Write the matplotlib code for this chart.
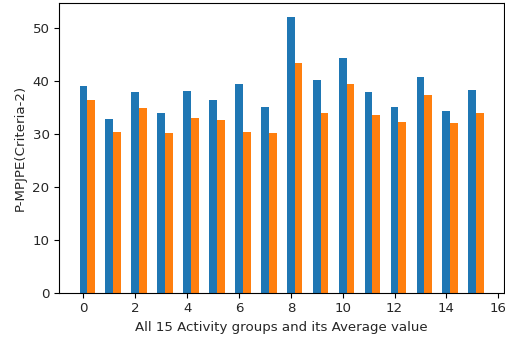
import numpy as np
import matplotlib.pyplot as plt

# P-MPJPE per activity group (last bar is the average), two methods
groups = np.arange(16)
blue_vals = [39.1, 32.8, 37.9, 33.9, 38.1, 36.4, 39.4, 35.1,
             52.2, 40.2, 44.4, 37.9, 35.1, 40.7, 34.3, 38.4]
orange_vals = [36.4, 30.3, 34.9, 30.1, 33.1, 32.6, 30.3, 30.1,
               43.4, 33.9, 39.4, 33.6, 32.3, 37.4, 32.1, 33.9]

plt.rcParams['font.size'] = 9.6
plt.rcParams['text.color'] = '#262626'
plt.rcParams['axes.labelcolor'] = '#262626'
plt.rcParams['xtick.labelcolor'] = '#262626'
plt.rcParams['ytick.labelcolor'] = '#262626'

fig = plt.figure(figsize=(5.05, 3.43), dpi=100)
ax = fig.add_axes([0.1174, 0.1466, 0.881, 0.8455])

w = 0.3
ax.bar(groups, blue_vals, width=w)
ax.bar(groups + w, orange_vals, width=w)

ax.set_xticks(np.arange(0, 17, 2))
ax.set_xlabel('All 15 Activity groups and its Average value')
ax.set_ylabel('P-MPJPE(Criteria-2)')

fig.savefig('out.png', dpi=100)
